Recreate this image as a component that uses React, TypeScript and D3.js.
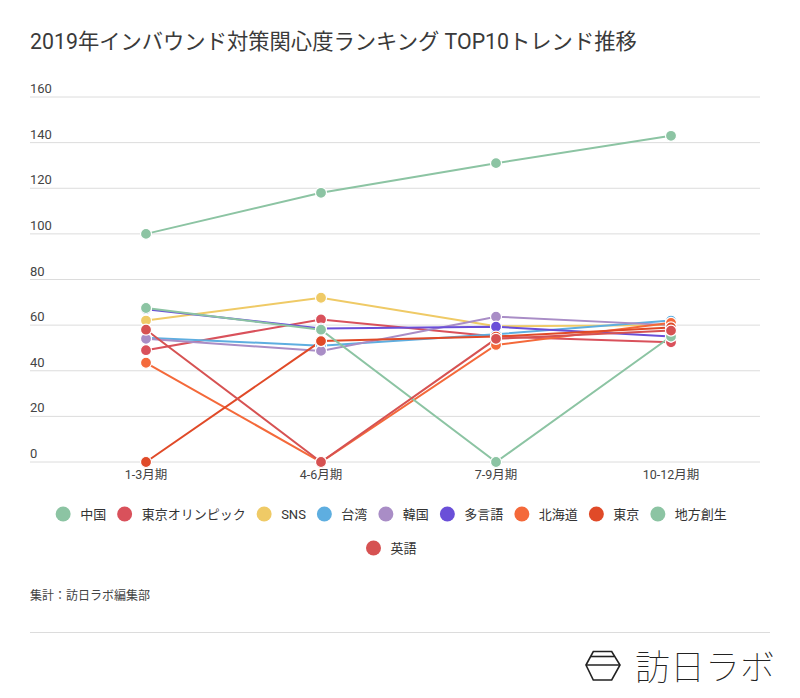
import React from "react";
import * as d3 from "d3";

const categories = ["1-3月期", "4-6月期", "7-9月期", "10-12月期"];
const seriesNames = ["中国", "東京オリンピック", "SNS", "台湾", "韓国", "多言語", "北海道", "東京", "地方創生", "英語"];
const seriesColors = ["#8cc4a3", "#d9515b", "#efca66", "#5eaee0", "#a98dc6", "#6a4fd8", "#f4693a", "#e04a28", "#8cc4a3", "#d65252"];
const v中国 = [100, 118, 131, 143];
const v東京オリンピック = [49, 62.5, 55, 52.5];
const vSNS = [62, 72, 59.5, 60];
const v台湾 = [54.5, 51, 56, 62];
const v韓国 = [54, 48.7, 63.7, 60];
const v多言語 = [67, 58.5, 59.3, 55];
const v北海道 = [43.5, 0, 51.3, 61];
const v東京 = [0, 53, 55, 59];
const v地方創生 = [67.5, 58, 0, 55];
const v英語 = [58, 0, 54, 57.6];
const seriesValues = [v中国, v東京オリンピック, vSNS, v台湾, v韓国, v多言語, v北海道, v東京, v地方創生, v英語];
const yTicks = [0, 20, 40, 60, 80, 100, 120, 140, 160];

const FONT = "Roboto, 'Noto Sans CJK JP', sans-serif";

function measure(text: string, size: number): number {
  const c = document.createElement("canvas");
  const ctx = c.getContext("2d");
  if (!ctx) return text.length * size;
  ctx.font = `${size}px ${FONT}`;
  return ctx.measureText(text).width;
}

export default function App() {
  const W = 800, H = 698;
  const x = d3.scalePoint<string>().domain(categories).range([146, 671]);
  const y = d3.scaleLinear().domain([0, 160]).range([462, 97]);
  const line = d3.line<number>().x((_, i) => x(categories[i]) as number).y((d) => y(d));

  // legend layout
  const legFont = 13;
  const R = 7.5;
  const items = seriesNames.map((n, i) => ({ name: n, color: seriesColors[i], w: R + 17 + measure(n, legFont) }));
  const spacing = 11;
  const maxRow = 700;
  const rows: typeof items[] = [];
  let cur: typeof items = [];
  let curW = 0;
  items.forEach((it) => {
    const add = (cur.length ? spacing : 0) + it.w;
    if (curW + add > maxRow && cur.length) {
      rows.push(cur);
      cur = [it];
      curW = it.w;
    } else {
      cur.push(it);
      curW += add;
    }
  });
  if (cur.length) rows.push(cur);
  const legendCenter = 395;

  return (
    <svg width={W} height={H} style={{ position: "absolute", left: 0, top: 0, background: "#fff" }} fontFamily={FONT}>
      <rect width={W} height={H} fill="#fff" />
      <text x={30} y={49} fontSize={21.3} fill="#3a3a3a">
        2019年インバウンド対策関心度ランキング TOP10トレンド推移
      </text>
      {yTicks.map((t) => (
        <g key={t}>
          <line x1={30} x2={760} y1={y(t)} y2={y(t)} stroke="#dcdcdc" strokeWidth={1} />
          <text x={30} y={y(t) - 4} fontSize={13} fill="#444">
            {t}
          </text>
        </g>
      ))}
      {categories.map((c) => (
        <text key={c} x={x(c)} y={479} fontSize={12.5} fill="#444" textAnchor="middle">
          {c}
        </text>
      ))}
      {seriesValues.map((vals, si) => (
        <path key={si} d={line(vals) || ""} fill="none" stroke={seriesColors[si]} strokeWidth={2} />
      ))}
      {seriesValues.map((vals, si) => (
        <g key={si}>
          {vals.map((v, i) => (
            <circle key={i} cx={x(categories[i])} cy={y(v)} r={5.5} fill={seriesColors[si]} stroke="#fff" strokeWidth={1.2} />
          ))}
        </g>
      ))}
      {rows.map((row, ri) => {
        const total = row.reduce((s, it) => s + it.w, 0) + spacing * (row.length - 1) + R;
        let cx = legendCenter - total / 2 + R;
        const yy = 514 + ri * 34;
        return (
          <g key={ri}>
            {row.map((it) => {
              const c0 = cx;
              cx += it.w + spacing;
              return (
                <g key={it.name}>
                  <circle cx={c0} cy={yy} r={R} fill={it.color} />
                  <text x={c0 + 17} y={yy + 4.5} fontSize={legFont} fill="#333">
                    {it.name}
                  </text>
                </g>
              );
            })}
          </g>
        );
      })}
      <text x={30} y={600} fontSize={12} fill="#444">
        集計：訪日ラボ編集部
      </text>
      <line x1={30} x2={770} y1={632.5} y2={632.5} stroke="#dcdcdc" strokeWidth={1} />
      <g stroke="#222" strokeWidth={1.6} fill="none">
        <path d="M586,665 L593.3,651.5 L611.7,651.5 L620,665 L611.7,680 L593.3,680 Z" />
        <line x1={591} x2={614} y1={656.5} y2={656.5} />
        <line x1={586} x2={620} y1={665} y2={665} />
      </g>
      <text x={635} y={680} fontSize={35} fontWeight={100} fill="#222" letterSpacing={0}>
        訪日ラボ
      </text>
    </svg>
  );
}
